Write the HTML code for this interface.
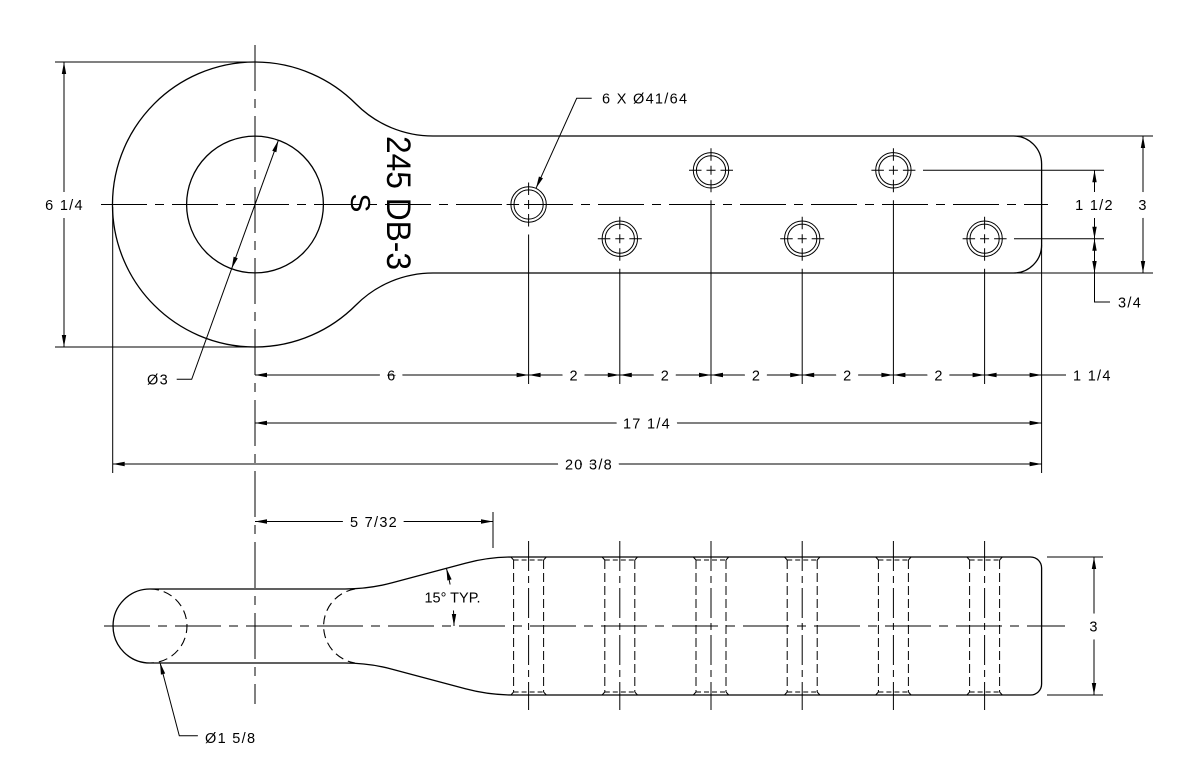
<!DOCTYPE html>
<html>
<head>
<meta charset="utf-8">
<style>
html,body{margin:0;padding:0;background:#fff}
svg{display:block}
text{font-family:"Liberation Sans",Arial,sans-serif;font-size:14.5px;fill:#000}
.l{stroke:#fff;stroke-width:16px;paint-order:stroke;stroke-linejoin:round;letter-spacing:1.3px}
.o{fill:none;stroke:#000;stroke-width:1.3}
.d{fill:none;stroke:#000;stroke-width:1}
.c{fill:none;stroke:#000;stroke-width:1;stroke-dasharray:46 8 9 8}
.cv{fill:none;stroke:#000;stroke-width:1;stroke-dasharray:30 5 7 5}
.h{fill:none;stroke:#000;stroke-width:1;stroke-dasharray:9 4}
.h2{fill:none;stroke:#000;stroke-width:1.1;stroke-dasharray:9 5}
.hs{fill:none;stroke:#000;stroke-width:1;stroke-dasharray:5 3}
</style>
</head>
<body>
<svg width="1200" height="782" viewBox="0 0 1200 782" xmlns="http://www.w3.org/2000/svg">
<defs>
<marker id="a" viewBox="0 0 12 4.4" refX="12" refY="2.2" markerWidth="12" markerHeight="4.4" markerUnits="userSpaceOnUse" orient="auto-start-reverse" overflow="visible">
<path d="M0 0L12 2.2L0 4.4z" fill="#000"/>
</marker>
</defs>

<!-- ===== center lines ===== -->
<line class="c" x1="255" y1="45" x2="255" y2="704"/>
<line class="c" x1="101" y1="204.5" x2="1048" y2="204.5"/>
<line class="c" x1="104" y1="626" x2="1065" y2="626"/>

<!-- ===== TOP VIEW ===== -->
<path class="o" d="M1013.6 136L433 136A108.6 108.6 0 0 1 356 104A142.5 142.5 0 1 0 356 305A108.6 108.6 0 0 1 433 273L1013.6 273A28 28 0 0 0 1041.6 245L1041.6 164A28 28 0 0 0 1013.6 136Z"/>
<circle class="o" cx="255" cy="204.5" r="68.4"/>

<!-- holes -->
<g class="d">
<circle cx="528.6" cy="204.5" r="17.7"/><circle cx="528.6" cy="204.5" r="14.6"/>
<circle cx="619.8" cy="238.7" r="17.7"/><circle cx="619.8" cy="238.7" r="14.6"/>
<circle cx="711" cy="170.3" r="17.7"/><circle cx="711" cy="170.3" r="14.6"/>
<circle cx="802.2" cy="238.7" r="17.7"/><circle cx="802.2" cy="238.7" r="14.6"/>
<circle cx="893.4" cy="170.3" r="17.7"/><circle cx="893.4" cy="170.3" r="14.6"/>
<circle cx="984.6" cy="238.7" r="17.7"/><circle cx="984.6" cy="238.7" r="14.6"/>
</g>
<path class="d" d="M506.6 204.5H519.1M524.1 204.5H533.1M538.1 204.5H550.6M528.6 182.5V195M528.6 200V209M528.6 214V226.5M528.6 234.5V384
M597.8 238.7H610.3M615.3 238.7H624.3M629.3 238.7H641.8M619.8 216.7V229.2M619.8 234.2V243.2M619.8 248.2V260.7M619.8 268.7V384
M689 170.3H701.5M706.5 170.3H715.5M720.5 170.3H733M711 148.3V160.8M711 165.8V174.8M711 179.8V192.3M711 200.3V384
M780.2 238.7H792.7M797.7 238.7H806.7M811.7 238.7H824.2M802.2 216.7V229.2M802.2 234.2V243.2M802.2 248.2V260.7M802.2 268.7V384
M871.4 170.3H883.9M888.9 170.3H897.9M902.9 170.3H915.4M893.4 148.3V160.8M893.4 165.8V174.8M893.4 179.8V192.3M893.4 200.3V384
M962.6 238.7H975.1M980.1 238.7H989.1M994.1 238.7H1006.6M984.6 216.7V229.2M984.6 234.2V243.2M984.6 248.2V260.7M984.6 268.7V384"/>

<!-- extension lines -->
<path class="d" d="M923 170.3H1104M1014 238.7H1104M1013.6 136H1153M1013.6 273H1153M55 62H255M55 347H255M112.7 207V473M1041.6 245V473M1041.6 375H1066"/>

<!-- dimension lines -->
<g class="d" marker-start="url(#a)" marker-end="url(#a)">
<line x1="255" y1="375" x2="528.6" y2="375"/>
<line x1="528.6" y1="375" x2="619.8" y2="375"/>
<line x1="619.8" y1="375" x2="711" y2="375"/>
<line x1="711" y1="375" x2="802.2" y2="375"/>
<line x1="802.2" y1="375" x2="893.4" y2="375"/>
<line x1="893.4" y1="375" x2="984.6" y2="375"/>
<line x1="984.6" y1="375" x2="1041.6" y2="375"/>
<line x1="255" y1="423" x2="1041.6" y2="423"/>
<line x1="112.7" y1="464" x2="1041.6" y2="464"/>
<line x1="64" y1="62" x2="64" y2="347"/>
<line x1="1143" y1="136" x2="1143" y2="273"/>
<line x1="1094.5" y1="170.3" x2="1094.5" y2="238.7"/>
<line x1="1094.5" y1="238.7" x2="1094.5" y2="273"/>
<line x1="255" y1="521.5" x2="493" y2="521.5"/>
<line x1="1094" y1="557" x2="1094" y2="695"/>
<line x1="278.4" y1="140.2" x2="231.6" y2="268.8"/>
<path d="M446.4 568.3A223 223 0 0 1 454 626"/>
</g>
<path class="d" d="M1094.5 273V302H1110M231.6 268.8L191.7 379.3H176.7M493 512V548"/>

<!-- leaders with single arrow -->
<path class="d" d="M591.7 98.3H576.7L536 188.3" marker-end="url(#a)"/>
<path class="d" d="M198 735.7H179.3L160 662.5" marker-end="url(#a)"/>

<!-- ===== BOTTOM VIEW ===== -->
<path class="o" d="M150 589A37 37 0 0 0 150 663"/>
<path class="h2" d="M150 589A37 37 0 0 1 150 663"/>
<path class="h2" d="M355 589A37.5 37.5 0 0 0 355 663"/>
<path class="o" d="M150 589L345 589Q369 589 392.2 582.8L465.4 563.2Q488.6 557 512.6 557L1030.6 557A11 11 0 0 1 1041.6 568L1041.6 684A11 11 0 0 1 1030.6 695L512.6 695Q488.6 695 465.4 688.8L392.2 669.2Q369 663 345 663L150 663"/>
<path class="d" d="M1047 557H1103M1047 695H1103"/>

<!-- hidden holes -->
<path class="h" d="M513.6 560V692M543.6 560V692M604.8 560V692M634.8 560V692M696 560V692M726 560V692M787.2 560V692M817.2 560V692M878.4 560V692M908.4 560V692M969.6 560V692M999.6 560V692"/>
<path class="hs" d="M513.6 560H543.6M513.6 692H543.6M604.8 560H634.8M604.8 692H634.8M696 560H726M696 692H726M787.2 560H817.2M787.2 692H817.2M878.4 560H908.4M878.4 692H908.4M969.6 560H999.6M969.6 692H999.6"/>
<path class="d" d="M510.9 557L513.6 560M546.3 557L543.6 560M510.9 695L513.6 692M546.3 695L543.6 692
M602.1 557L604.8 560M637.5 557L634.8 560M602.1 695L604.8 692M637.5 695L634.8 692
M693.3 557L696 560M728.7 557L726 560M693.3 695L696 692M728.7 695L726 692
M784.5 557L787.2 560M819.9 557L817.2 560M784.5 695L787.2 692M819.9 695L817.2 692
M875.7 557L878.4 560M911.1 557L908.4 560M875.7 695L878.4 692M911.1 695L908.4 692
M966.9 557L969.6 560M1002.3 557L999.6 560M966.9 695L969.6 692M1002.3 695L999.6 692"/>
<path class="cv" d="M528.6 541V710M619.8 541V710M711 541V710M802.2 541V710M893.4 541V710M984.6 541V710"/>

<!-- ===== LABELS ===== -->
<text class="l" x="64.5" y="209.8" text-anchor="middle">6 1/4</text>
<text class="l" x="169" y="384.6" text-anchor="end">Ø3</text>
<text class="l" x="602" y="103.6">6 X Ø41/64</text>
<text class="l" x="391.8" y="380.3" text-anchor="middle">6</text>
<text class="l" x="574.2" y="380.3" text-anchor="middle">2</text>
<text class="l" x="665.4" y="380.3" text-anchor="middle">2</text>
<text class="l" x="756.6" y="380.3" text-anchor="middle">2</text>
<text class="l" x="847.8" y="380.3" text-anchor="middle">2</text>
<text class="l" x="939" y="380.3" text-anchor="middle">2</text>
<text class="l" x="1073" y="380.3">1 1/4</text>
<text class="l" x="647" y="428.3" text-anchor="middle">17 1/4</text>
<text class="l" x="589" y="469.3" text-anchor="middle">20 3/8</text>
<text class="l" x="1094.5" y="209.8" text-anchor="middle">1 1/2</text>
<text class="l" x="1143" y="209.8" text-anchor="middle">3</text>
<text class="l" x="1118" y="307.3">3/4</text>
<text class="l" x="374" y="526.8" text-anchor="middle">5 7/32</text>
<text class="l" x="452.5" y="602.3" text-anchor="middle" style="letter-spacing:0">15° TYP.</text>
<text class="l" x="205" y="743">Ø1 5/8</text>
<text class="l" x="1094" y="631.3" text-anchor="middle">3</text>

<text transform="translate(387,136) rotate(90)" style="font-size:34px" textLength="134" lengthAdjust="spacingAndGlyphs">245 DB-3</text>
<text transform="translate(351,203) rotate(90)" style="font-size:28px" text-anchor="middle">S</text>
</svg>
</body>
</html>
